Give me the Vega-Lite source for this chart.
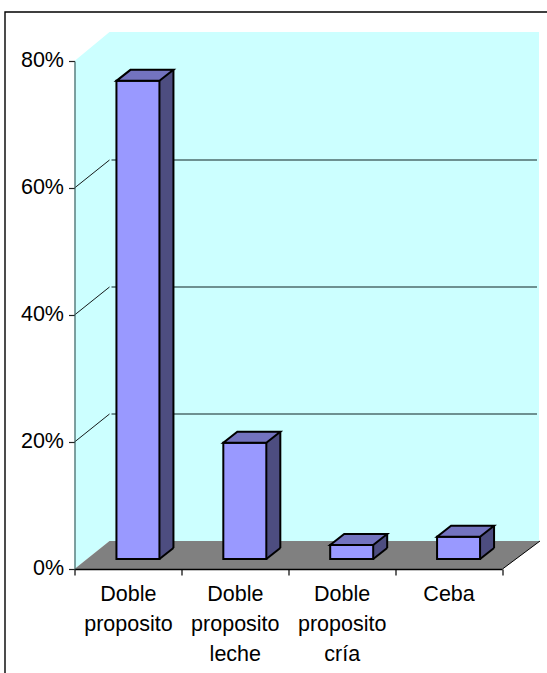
{"$schema":"https://vega.github.io/schema/vega-lite/v6.json","width":427.5,"height":508,"autosize":{"type":"none"},"padding":{"left":74.5,"top":61,"right":45,"bottom":104},"background":"white","view":{"stroke":null},"config":{"font":"Liberation Sans"},
"data":{"values":[{"categoria":"Doble proposito","valor":0.753},{"categoria":"Doble proposito leche","valor":0.183},{"categoria":"Doble proposito cría","valor":0.022},{"categoria":"Ceba","valor":0.035}]},
"encoding":{
"x":{"field":"categoria","type":"nominal","scale":{"type":"band","paddingInner":0,"paddingOuter":0,"domain":["Doble proposito","Doble proposito leche","Doble proposito cría","Ceba"]},"axis":{"title":null,"tickBand":"extent","labelAngle":0,"labelFontSize":21.5,"labelColor":"#000","labelLimit":200,"labelOverlap":false,"labelExpr":"split(datum.label,' ')","labelLineHeight":30,"labelPadding":8,"tickSize":6,"tickColor":"#000","tickWidth":1.2,"domainColor":"#000","domainWidth":1.6,"zindex":1}},
"y":{"field":"valor","type":"quantitative","scale":{"domain":[0,0.8],"nice":false},"axis":{"title":null,"values":[0,0.2,0.4,0.6,0.8],"format":".0%","labelFontSize":21.5,"labelColor":"#000","labelPadding":5,"labelOffset":-1,"tickSize":6,"tickColor":"#222","tickWidth":1.2,"domainColor":"#3f5f5f","domainWidth":1.2,"grid":false,"zindex":1}}
},
"layer":[
{"data":{"values":[{"valor":0}]},"mark":{"type":"point","size":4,"opacity":1,"filled":true,"fill":"#CCFFFF","stroke":null,"shape":"M0,0L0,-508L35,-537L464.5,-537L464.5,-28L35,-28Z"},"encoding":{"x":{"datum":"Doble proposito","bandPosition":0}}},
{"data":{"values":[{"valor":0}]},"mark":{"type":"point","size":4,"opacity":1,"filled":true,"fill":"#808080","stroke":null,"shape":"M0,0L35,-28L465.5,-28L428,0Z"},"encoding":{"x":{"datum":"Doble proposito","bandPosition":0}}},
{"data":{"values":[{"valor":0}]},"mark":{"type":"point","size":4,"opacity":1,"filled":false,"stroke":"#000","strokeWidth":1,"shape":"M428,0L465.5,-28"},"encoding":{"x":{"datum":"Doble proposito","bandPosition":0}}},
{"data":{"values":[{"valor":0}]},"mark":{"type":"point","size":4,"opacity":1,"filled":false,"stroke":"#000","strokeWidth":1.4,"shape":"M-69.5,104L-69.5,-557L473,-557"},"encoding":{"x":{"datum":"Doble proposito","bandPosition":0}}},
{"data":{"values":[{"valor":0.2},{"valor":0.4},{"valor":0.6}]},"mark":{"type":"point","size":4,"opacity":1,"filled":false,"stroke":"#000","strokeWidth":0.9,"shape":"M0,0L35,-28"},"encoding":{"x":{"datum":"Doble proposito","bandPosition":0}}},
{"data":{"values":[{"valor":0.2},{"valor":0.4},{"valor":0.6}]},"mark":{"type":"point","size":4,"opacity":1,"filled":false,"stroke":"#0f2525","strokeWidth":1.2,"shape":"M37,-28L462.5,-28"},"encoding":{"x":{"datum":"Doble proposito","bandPosition":0}}},
{"mark":{"type":"bar","width":44,"xOffset":24,"yOffset":-21,"y2Offset":-21,"fill":"#4D4D80","stroke":null},"encoding":{"y2":{"datum":0}}},
{"mark":{"type":"point","size":4,"opacity":1,"filled":true,"fill":"#4D4D80","stroke":null,"xOffset":10,"yOffset":-10,"shape":"M21.5,0L35.5,-11L21.5,-11Z"},"encoding":{"y":{"datum":0}}},
{"mark":{"type":"point","size":4,"opacity":1,"filled":false,"stroke":"#000","strokeWidth":2,"xOffset":10,"yOffset":-10,"shape":"M21.5,0L35.5,-11"},"encoding":{"y":{"datum":0}}},
{"mark":{"type":"rule","stroke":"#000","strokeWidth":2,"xOffset":45.5,"yOffset":-21,"y2Offset":-21},"encoding":{"y2":{"datum":0}}},
{"mark":{"type":"bar","width":43,"xOffset":10,"yOffset":-10,"y2Offset":-10,"fill":"#9999FF","stroke":"#000","strokeWidth":2},"encoding":{"y2":{"datum":0}}},
{"mark":{"type":"point","size":4,"opacity":1,"filled":true,"fill":"#7373BF","stroke":"#000","strokeWidth":2,"strokeJoin":"miter","xOffset":10,"yOffset":-10,"shape":"M-21.5,0L21.5,0L35.5,-11L-7.5,-11Z"}}
]}
